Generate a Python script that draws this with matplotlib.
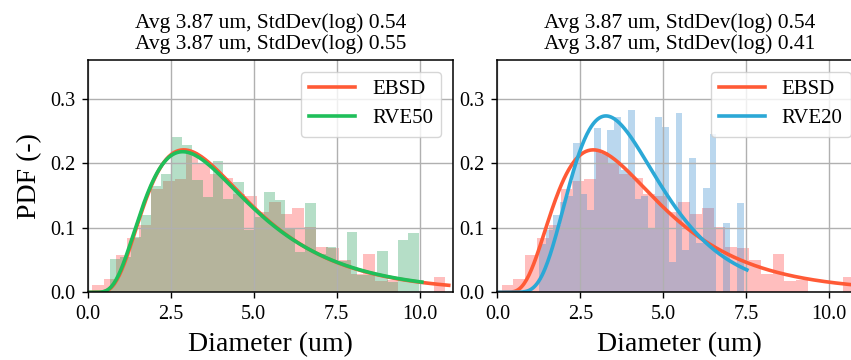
import numpy as np
import matplotlib
matplotlib.use("Agg")
import matplotlib.pyplot as plt

plt.rcParams["font.family"] = ["Liberation Serif", "DejaVu Serif"]

# histogram data (density per bin), 30 bins each
ebsd_range = (0.13, 10.78)
ebsd_density = [0.011, 0.021, 0.058, 0.084, 0.104, 0.160, 0.172, 0.176, 0.218, 0.200,
                0.183, 0.178, 0.153, 0.150, 0.125, 0.140, 0.122, 0.130, 0.102, 0.070,
                0.068, 0.050, 0.028, 0.059, 0.017, 0.019, 0.0, 0.0, 0.0, 0.024]

rve50_range = (0.67, 9.97)
rve50_density = [0.052, 0.055, 0.085, 0.120, 0.165, 0.184, 0.241, 0.228, 0.174, 0.148,
                 0.203, 0.145, 0.171, 0.096, 0.116, 0.156, 0.143, 0.099, 0.063, 0.138,
                 0.060, 0.070, 0.048, 0.094, 0.027, 0.027, 0.064, 0.016, 0.081, 0.092]

rve20_range = (1.27, 7.42)
rve20_density = [0.075, 0.096, 0.120, 0.140, 0.150, 0.231, 0.153, 0.127, 0.254, 0.215,
                 0.252, 0.272, 0.190, 0.282, 0.145, 0.150, 0.099, 0.272, 0.256, 0.047,
                 0.278, 0.065, 0.208, 0.076, 0.161, 0.246, 0.0, 0.108, 0.0, 0.138]

# lognormal fits: median (um), std dev of log
ebsd_fit = (3.87, 0.54)
rve50_fit = (3.87, 0.55)
rve20_fit = (3.87, 0.41)

x_ticks = [0.0, 2.5, 5.0, 7.5, 10.0]
y_ticks = [0.0, 0.1, 0.2, 0.3]

C_EBSD = "#ff5a36"
C_RVE50 = "#1fbf5a"
C_RVE20 = "#2ba8d6"


def lognorm_pdf(x, median, sigma):
    return np.exp(-(np.log(x) - np.log(median)) ** 2 / (2 * sigma ** 2)) / (x * sigma * np.sqrt(2 * np.pi))


def draw_hist(ax, rng, dens, color, alpha):
    edges = np.linspace(rng[0], rng[1], len(dens) + 1)
    ax.hist(edges[:-1], bins=edges, weights=dens, color=color, alpha=alpha)


def draw_fit(ax, fit, xmax, color, label):
    x = np.linspace(0.01, xmax + 0.1, 300)
    ax.plot(x, lognorm_pdf(x, *fit), color=color, lw=2.6, label=label)


def style_axes(ax, fit_a, fit_b):
    ax.set_xlim(0, 11)
    ax.set_ylim(0, 0.36)
    ax.set_xticks(x_ticks)
    ax.set_xticklabels([f"{t:.1f}" for t in x_ticks])
    ax.set_yticks(y_ticks)
    ax.set_yticklabels([f"{t:.1f}" for t in y_ticks])
    ax.tick_params(labelsize=14.5, width=1.0, length=4.5, pad=4.5)
    ax.grid(True, color="#b0b0b0", lw=1.0)
    for s in ax.spines.values():
        s.set_linewidth(1.1)
    ax.set_xlabel("Diameter (um)", fontsize=20, labelpad=6)
    ax.set_title(f"Avg {fit_a[0]:.2f} um, StdDev(log) {fit_a[1]:.2f}\n"
                 f"Avg {fit_b[0]:.2f} um, StdDev(log) {fit_b[1]:.2f}",
                 fontsize=15.5, pad=8, linespacing=1.1)
    ax.legend(loc="upper right", fontsize=15, handlelength=2.2,
              borderaxespad=0.55, borderpad=0.4, labelspacing=0.45,
              framealpha=0.8)


fig = plt.figure(figsize=(8.51, 3.6), dpi=100)
ax1 = fig.add_axes([0.1031, 0.188, 0.4289, 0.645])
ax2 = fig.add_axes([0.5844, 0.188, 0.4289, 0.645])

# left: EBSD vs RVE50
draw_hist(ax1, ebsd_range, ebsd_density, "#ff7f7f", 0.5)
draw_hist(ax1, rve50_range, rve50_density, "#2ca25f", 0.35)
draw_fit(ax1, ebsd_fit, ebsd_range[1], C_EBSD, "EBSD")
draw_fit(ax1, rve50_fit, rve50_range[1], C_RVE50, "RVE50")
style_axes(ax1, ebsd_fit, rve50_fit)
ax1.set_ylabel("PDF (-)", fontsize=20, labelpad=6)

# right: EBSD vs RVE20
draw_hist(ax2, ebsd_range, ebsd_density, "#ff7f7f", 0.5)
draw_hist(ax2, rve20_range, rve20_density, "#3a8fd0", 0.35)
draw_fit(ax2, ebsd_fit, ebsd_range[1], C_EBSD, "EBSD")
draw_fit(ax2, rve20_fit, rve20_range[1], C_RVE20, "RVE20")
style_axes(ax2, ebsd_fit, rve20_fit)

fig.savefig("out.png", dpi=100)
